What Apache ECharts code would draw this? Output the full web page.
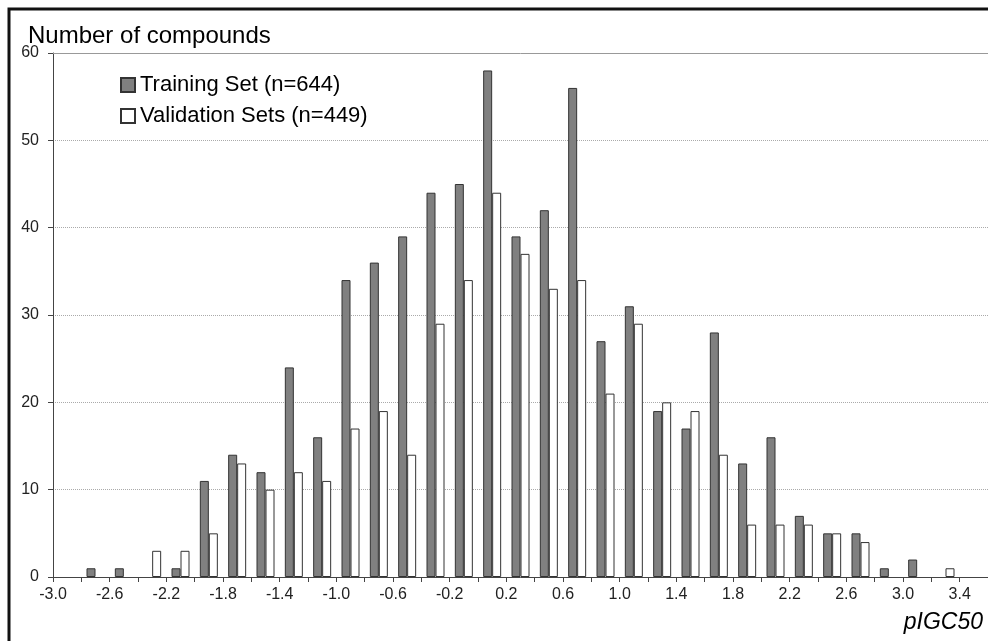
<!DOCTYPE html>
<html>
<head>
<meta charset="utf-8">
<script src="https://cdn.jsdelivr.net/npm/echarts@6/dist/echarts.min.js"></script>
<style>
  html, body { margin: 0; padding: 0; background: #fff; }
  #chart { width: 988px; height: 641px; }
</style>
</head>
<body>
<div id="chart"></div>
<script>
// bin centres (bins are 0.2 wide, from -2.8 to 3.4)
const binCenters = [
  -2.7, -2.5, -2.3, -2.1, -1.9, -1.7, -1.5, -1.3, -1.1, -0.9, -0.7, -0.5, -0.3, -0.1,
  0.1, 0.3, 0.5, 0.7, 0.9, 1.1, 1.3, 1.5, 1.7, 1.9, 2.1, 2.3, 2.5, 2.7, 2.9, 3.1, 3.3
]
const trainingCounts = [
  1, 1, 0, 1, 11, 14, 12, 24, 16, 34, 36, 39, 44, 45,
  58, 39, 42, 56, 27, 31, 19, 17, 28, 13, 16, 7, 5, 5, 1, 2, 0
]
const validationCounts = [
  0, 0, 3, 3, 5, 13, 10, 12, 11, 17, 19, 14, 29, 34,
  44, 37, 33, 34, 21, 29, 20, 19, 14, 6, 6, 6, 5, 4, 0, 0, 1
]
const seriesNames = ['Training Set (n=644)', 'Validation Sets (n=449)']

const toPairs = (counts) =>
  binCenters.map((x, i) => [x, counts[i] === 0 ? null : counts[i]])

const font = 'Liberation Sans, Arial, sans-serif'

const chart = echarts.init(document.getElementById('chart'))
const option = {
  backgroundColor: '#fff',
  animation: false,
  title: {
    text: 'Number of compounds',
    left: 23,
    top: 19,
    textStyle: { fontSize: 24, fontWeight: 'normal', color: '#000', fontFamily: font }
  },
  legend: {
    orient: 'vertical',
    left: 115,
    top: 69,
    itemWidth: 14,
    itemHeight: 14,
    itemGap: 9,
    icon: 'rect',
    textStyle: { fontSize: 22, color: '#000', fontFamily: font },
    data: seriesNames
  },
  grid: {
    left: 53,
    top: 53,
    width: 938,
    height: 524
  },
  xAxis: [
    {
      type: 'value',
      min: -3.0,
      max: 3.6,
      interval: 0.2,
      axisLine: { onZero: false, lineStyle: { color: '#444', width: 1 } },
      axisTick: { show: true, length: 5, lineStyle: { color: '#444' } },
      splitLine: { show: false },
      axisLabel: {
        fontSize: 16,
        color: '#222',
        fontFamily: font,
        margin: 10,
        showMaxLabel: false,
        formatter: (v) => (Math.round((v + 3) * 10) % 4 === 0 ? v.toFixed(1) : '')
      }
    },
    {
      // plain frame line along the top of the plot
      type: 'value',
      position: 'top',
      min: -3.0,
      max: 3.6,
      axisLine: { show: true, onZero: false, lineStyle: { color: '#999', width: 1 } },
      axisTick: { show: false },
      axisLabel: { show: false },
      splitLine: { show: false }
    }
  ],
  yAxis: {
    type: 'value',
    min: 0,
    max: 60,
    interval: 10,
    axisLine: { show: true, onZero: false, lineStyle: { color: '#444', width: 1 } },
    axisTick: { show: true, length: 5, lineStyle: { color: '#444' } },
    splitLine: { show: true, lineStyle: { color: '#aaa', type: 'dotted', width: 1 } },
    axisLabel: { fontSize: 16, color: '#222', fontFamily: font, margin: 14 }
  },
  series: [
    {
      name: seriesNames[0],
      type: 'bar',
      barWidth: 9,
      barGap: '0%',
      data: toPairs(trainingCounts),
      itemStyle: { color: '#808080', borderColor: '#333', borderWidth: 1 }
    },
    {
      name: seriesNames[1],
      type: 'bar',
      barWidth: 9,
      barGap: '0%',
      data: toPairs(validationCounts),
      itemStyle: { color: '#fff', borderColor: '#333', borderWidth: 1 }
    }
  ],
  graphic: [
    {
      type: 'rect',
      shape: { x: 9, y: 9, width: 1100, height: 800 },
      style: { fill: 'none', stroke: '#111', lineWidth: 3 },
      z: 100
    },
    {
      type: 'text',
      right: 5,
      top: 611,
      style: {
        text: 'pIGC50',
        font: 'italic 23px ' + font,
        fill: '#000'
      }
    }
  ]
}
chart.setOption(option)
</script>
</body>
</html>
